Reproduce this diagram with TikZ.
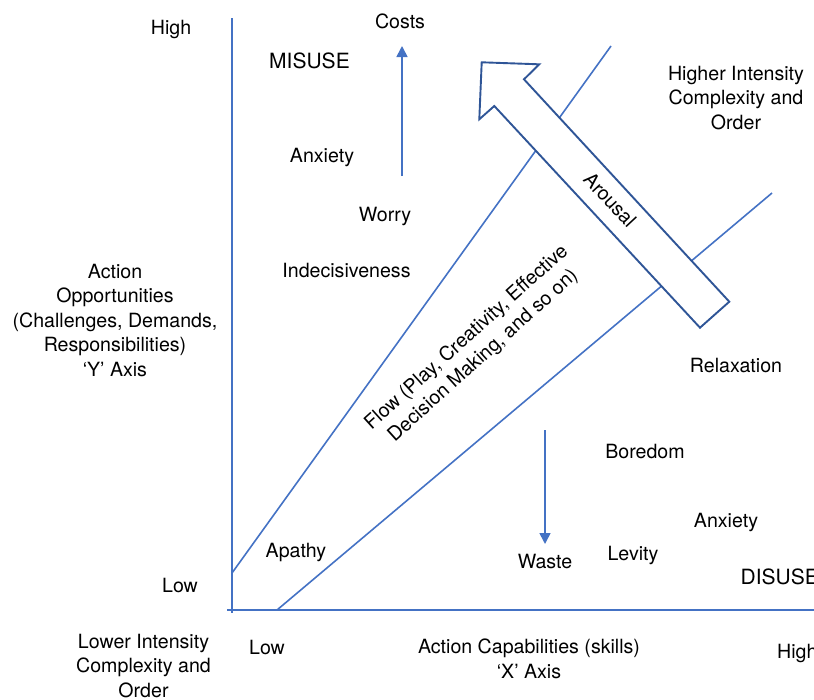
\documentclass[tikz,border=0pt]{standalone}
\usepackage{fontspec}
\setmainfont{TeX Gyre Heros}
\usetikzlibrary{arrows.meta}
\definecolor{axisblue}{HTML}{4472C4}
\definecolor{arrowblue}{HTML}{2F5597}
\tikzset{
  lbl/.style={inner sep=0pt, text=black, font=\fontsize{19.6}{24.5}\selectfont},
  lblb/.style={lbl, anchor=base},
  zone/.style={lblb, font=\fontsize{21}{25}\selectfont},
  blk/.style={lbl, align=center, anchor=center},
  axisline/.style={draw=axisblue, line width=1.6pt},
  pointer/.style={draw=axisblue, line width=1.6pt, -{Triangle[length=11pt,width=11pt]}},
  bigarrow/.style={draw=arrowblue, fill=white, line width=1.9pt, line join=miter}
}
\begin{document}
\begin{tikzpicture}[x=1pt, y=-1pt]
\useasboundingbox (0,0) rectangle (814,699);

% axes
\coordinate (yTop) at (232,18);
\coordinate (yBot) at (232,613);
\coordinate (xLeft) at (227,610);
\coordinate (xRight) at (816,610);
\draw[axisline] (yTop) -- (yBot);
\draw[axisline] (xLeft) -- (xRight);

% flow channel boundaries
\coordinate (upA) at (232,573);
\coordinate (upB) at (611,46);
\coordinate (loA) at (277,610);
\coordinate (loB) at (772,193);
\draw[axisline] (upA) -- (upB);
\draw[axisline] (loA) -- (loB);

% cost / waste pointers
\coordinate (costTail) at (402,176);
\coordinate (costTip) at (402,46);
\coordinate (wasteTail) at (545,430);
\coordinate (wasteTip) at (545,544);
\draw[pointer] (costTail) -- (costTip);
\draw[pointer] (wasteTail) -- (wasteTip);

% arousal block arrow
\draw[bigarrow] (481.7,62.3) -- (539.3,64.3) -- (524,79.3) -- (729.3,301.7)
  -- (700,327.7) -- (494.3,106) -- (479.3,119.3) -- cycle;
\node[lbl, rotate=-47] (arousal) at (610,200) {Arousal};

% flow label
\node[blk, rotate=42] (flow) at (475,347) {Flow (Play, Creativity, Effective\\Decision Making, and so on)};

% region labels
\node[lblb] (yHigh) at (171,34) {High};
\node[lblb] (costs) at (400,28.5) {Costs};
\node[zone] (misuse) at (309.5,68) {MISUSE};
\node[blk] (higher) at (736,98) {Higher Intensity\\Complexity and\\Order};
\node[lblb] (anx1) at (322,162) {Anxiety};
\node[lblb] (worry) at (385,221) {Worry};
\node[lblb] (indec) at (346.5,277) {Indecisiveness};
\node[blk] (ylabel) at (115,320) {Action\\Opportunities\\(Challenges, Demands,\\Responsibilities)\\‘Y’ Axis};
\node[lblb] (relax) at (736,372) {Relaxation};
\node[lblb] (bored) at (645,458) {Boredom};
\node[lblb] (anx2) at (726,527) {Anxiety};
\node[lblb] (apathy) at (296,557) {Apathy};
\node[lblb] (waste) at (545,568) {Waste};
\node[lblb] (levity) at (633,560) {Levity};
\node[zone, anchor=base west] (disuse) at (740.5,584) {DISUSE};
\node[lblb] (yLow) at (180,592) {Low};
\node[blk] (lower) at (143.5,666) {Lower Intensity\\Complexity and\\Order};
\node[lblb] (xLow) at (267,654) {Low};
\node[blk] (xlabel) at (529,659) {Action Capabilities (skills)\\‘X’ Axis};
\node[lblb, anchor=base west] (xHigh) at (777,658) {High};
\end{tikzpicture}
\end{document}
